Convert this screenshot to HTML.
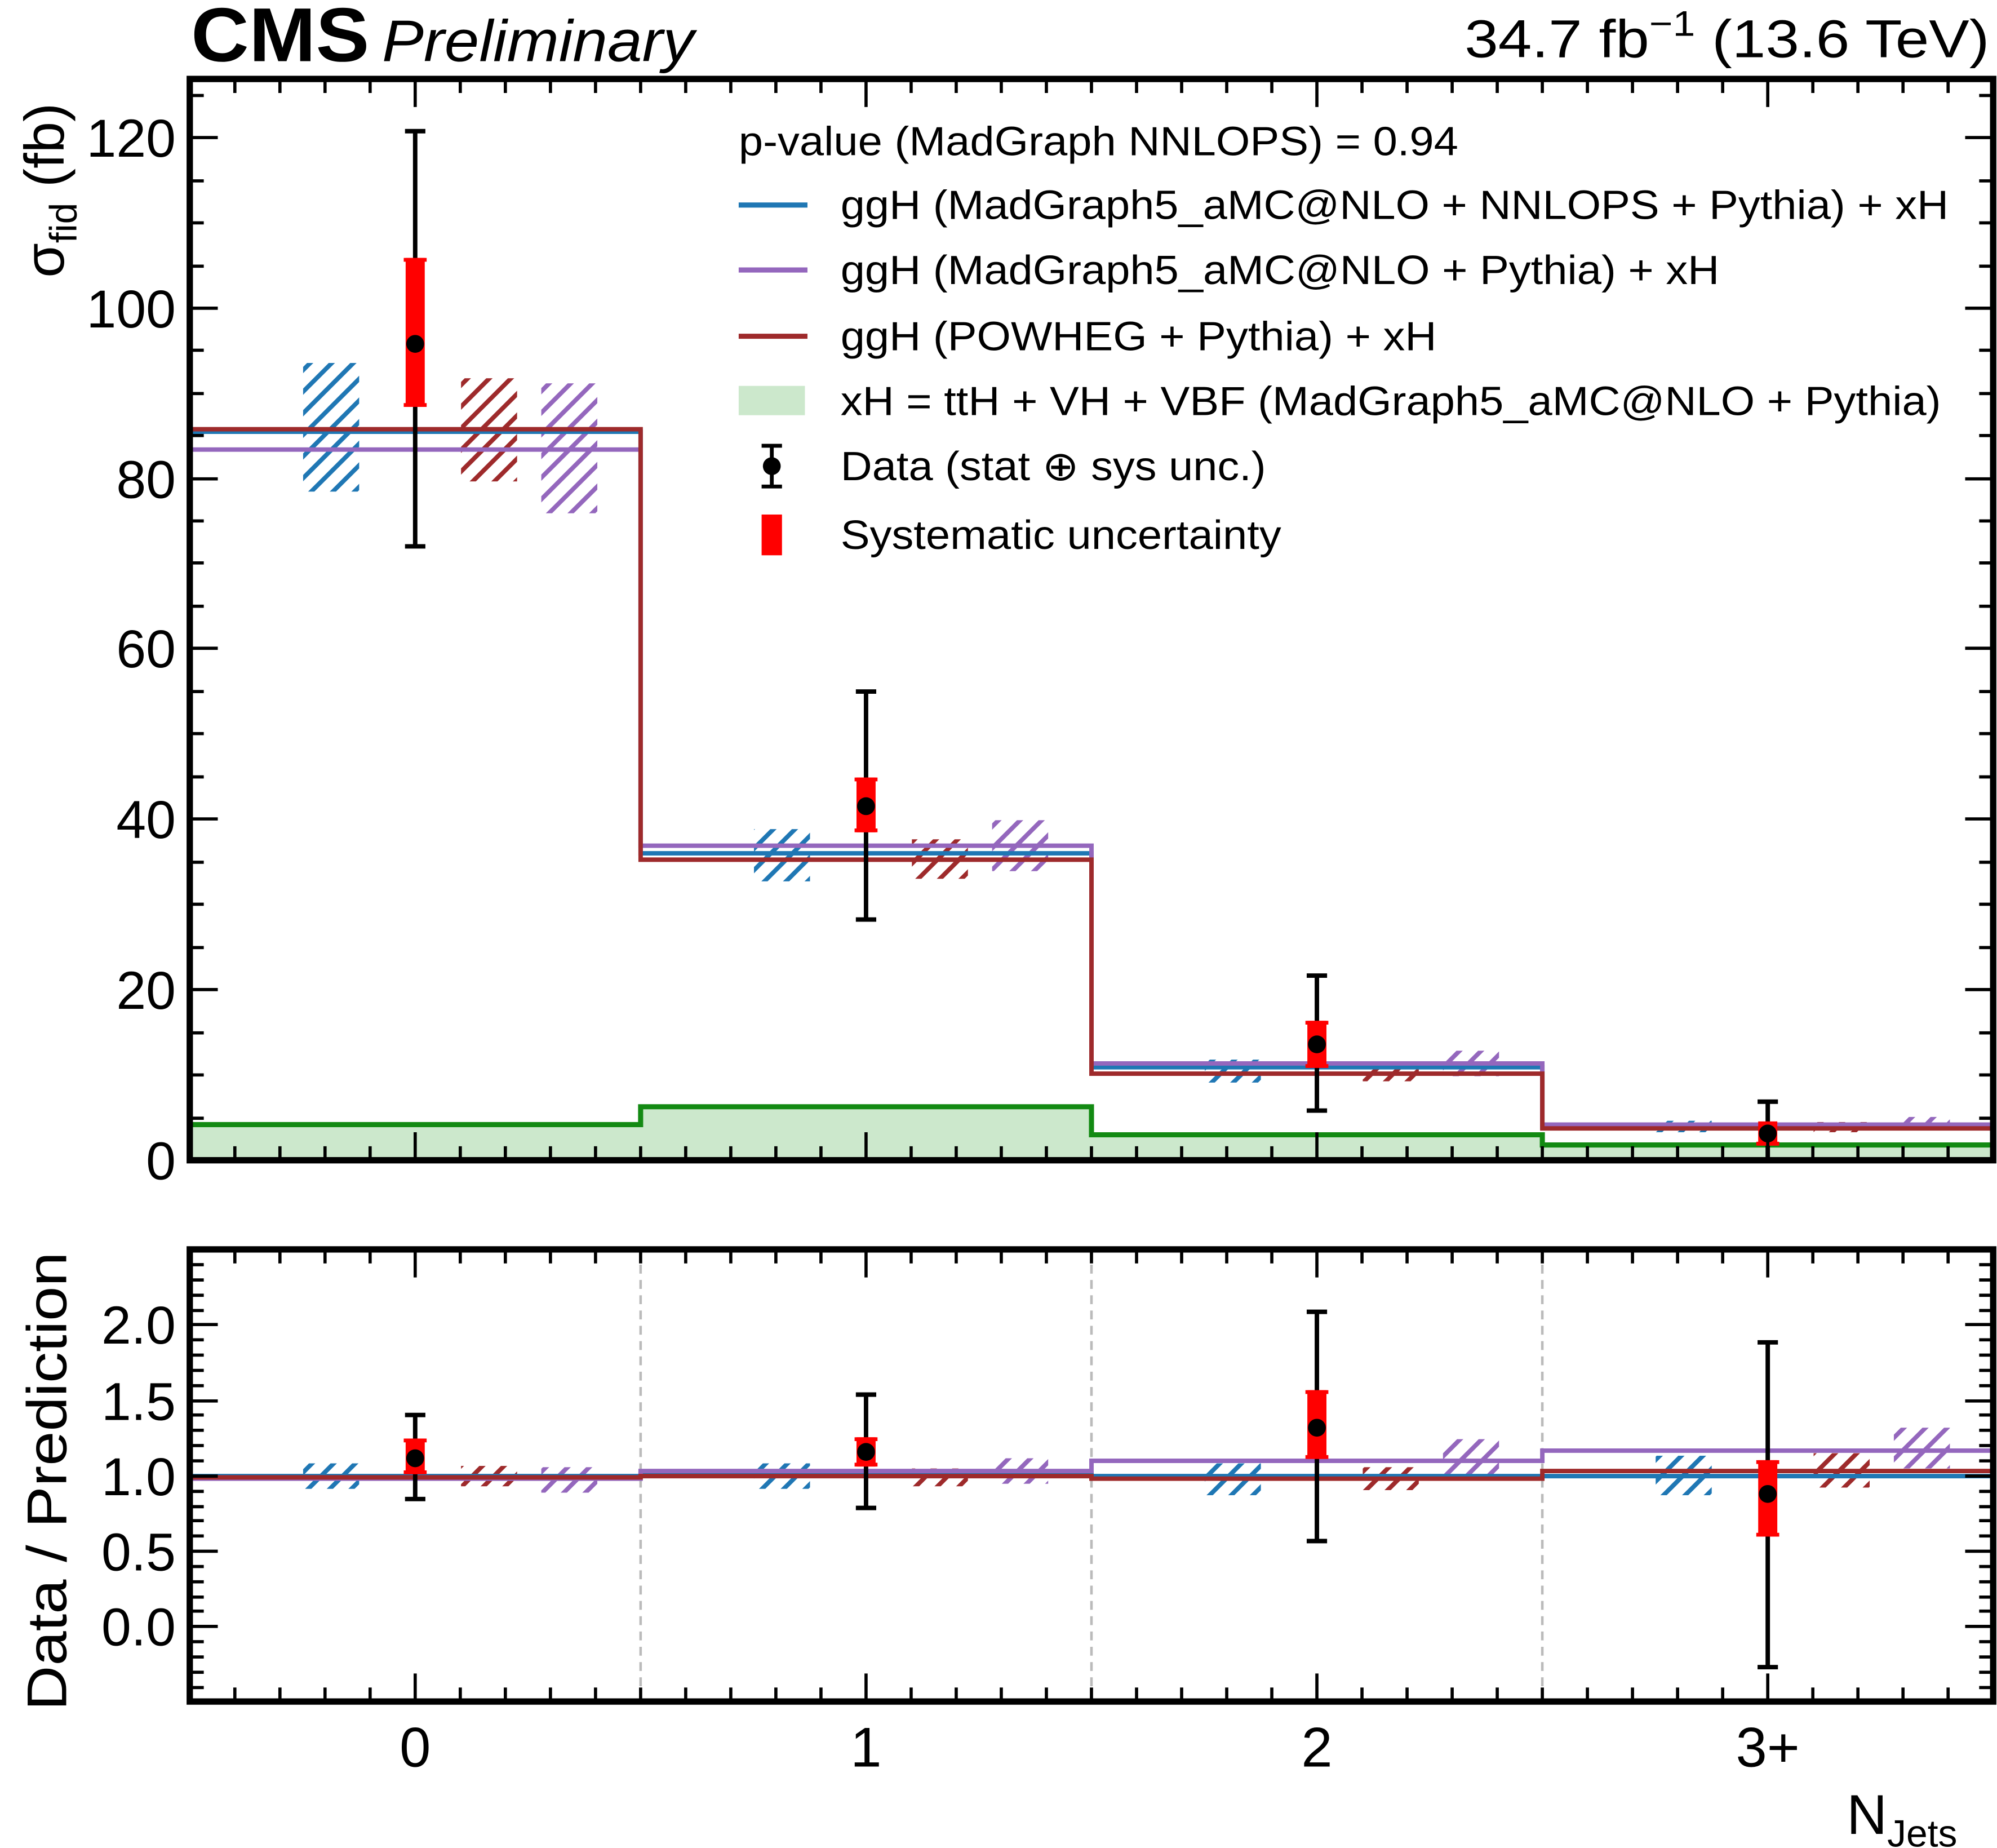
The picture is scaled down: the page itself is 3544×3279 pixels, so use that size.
<!DOCTYPE html>
<html><head><meta charset="utf-8"><style>html,body{margin:0;padding:0;background:#fff}svg{display:block}text{font-family:"Liberation Sans",sans-serif}</style></head>
<body>
<svg width="3544" height="3279" viewBox="0 0 1568 1451" preserveAspectRatio="none" xmlns="http://www.w3.org/2000/svg">
<defs>
<pattern id="hb" width="12" height="12" patternUnits="userSpaceOnUse" patternTransform="rotate(45)"><line x1="0" y1="0" x2="0" y2="12" stroke="#1f77b4" stroke-width="7"/></pattern>
<pattern id="hr" width="12" height="12" patternUnits="userSpaceOnUse" patternTransform="rotate(45)"><line x1="0" y1="0" x2="0" y2="12" stroke="#9e2a2b" stroke-width="7"/></pattern>
<pattern id="hp" width="12" height="12" patternUnits="userSpaceOnUse" patternTransform="rotate(45)"><line x1="0" y1="0" x2="0" y2="12" stroke="#9467bd" stroke-width="7"/></pattern>
</defs>
<rect width="1568" height="1451" fill="#fff"/>
<path d="M149,911 V883 H503 V869 H857 V891 H1211 V899 H1565 V911 Z" fill="#cce8cc"/>
<path d="M149,883 H503 V869 H857 V891 H1211 V899 H1565" fill="none" stroke="#138a13" stroke-width="4"/>
<g>
<rect x="238" y="285" width="44" height="101" fill="url(#hb)"/>
<rect x="362" y="297" width="44" height="81" fill="url(#hr)"/>
<rect x="425" y="301" width="44" height="102" fill="url(#hp)"/>
<rect x="592" y="651" width="44" height="41" fill="url(#hb)"/>
<rect x="716" y="659" width="44" height="31" fill="url(#hr)"/>
<rect x="779" y="644" width="44" height="40" fill="url(#hp)"/>
<rect x="946" y="832" width="44" height="18" fill="url(#hb)"/>
<rect x="1070" y="836" width="44" height="13" fill="url(#hr)"/>
<rect x="1133" y="825" width="44" height="20" fill="url(#hp)"/>
<rect x="1300" y="880" width="44" height="9" fill="url(#hb)"/>
<rect x="1424" y="881" width="44" height="8" fill="url(#hr)"/>
<rect x="1487" y="877" width="44" height="9" fill="url(#hp)"/>
</g>
<path d="M149,339 H503 V670 H857 V838 H1211 V885 H1565" fill="none" stroke="#1f77b4" stroke-width="3.5"/>
<path d="M149,353 H503 V664 H857 V835 H1211 V883 H1565" fill="none" stroke="#9467bd" stroke-width="3.5"/>
<path d="M149,337 H503 V675 H857 V843 H1211 V886 H1565" fill="none" stroke="#9e2a2b" stroke-width="3.5"/>
<g stroke="#000" stroke-width="3.5">
<line x1="326" y1="103" x2="326" y2="429"/><line x1="318" y1="103" x2="334" y2="103"/><line x1="318" y1="429" x2="334" y2="429"/>
<line x1="680" y1="543" x2="680" y2="722"/><line x1="672" y1="543" x2="688" y2="543"/><line x1="672" y1="722" x2="688" y2="722"/>
<line x1="1034" y1="766" x2="1034" y2="872"/><line x1="1026" y1="766" x2="1042" y2="766"/><line x1="1026" y1="872" x2="1042" y2="872"/>
<line x1="1388" y1="865" x2="1388" y2="911"/><line x1="1380" y1="865" x2="1396" y2="865"/>
</g>
<g fill="#f00" stroke="#f00" stroke-width="3">
<rect x="320" y="204" width="12" height="114"/><line x1="317" y1="204" x2="335" y2="204"/><line x1="317" y1="318" x2="335" y2="318"/>
<rect x="674" y="612" width="12" height="40"/><line x1="671" y1="612" x2="689" y2="612"/><line x1="671" y1="652" x2="689" y2="652"/>
<rect x="1028" y="803" width="12" height="34"/><line x1="1025" y1="803" x2="1043" y2="803"/><line x1="1025" y1="837" x2="1043" y2="837"/>
<rect x="1382" y="882" width="12" height="16"/><line x1="1379" y1="898" x2="1397" y2="898"/>
</g>
<g fill="#000"><circle cx="326" cy="270" r="7"/><circle cx="680" cy="633" r="7"/><circle cx="1034" cy="820" r="7"/><circle cx="1388" cy="890" r="7"/></g>
<g stroke="#000" stroke-width="2.5">
<path d="M149,108h22M149,242h22M149,376h22M149,509h22M149,643h22M149,777h22M1565,108h-22M1565,242h-22M1565,376h-22M1565,509h-22M1565,643h-22M1565,777h-22"/>
<path d="M149,142h11M149,175h11M149,209h11M149,275h11M149,309h11M149,342h11M149,409h11M149,442h11M149,476h11M149,543h11M149,576h11M149,610h11M149,677h11M149,710h11M149,744h11M149,811h11M149,844h11M149,878h11M149,75h11
M1565,142h-11M1565,175h-11M1565,209h-11M1565,275h-11M1565,309h-11M1565,342h-11M1565,409h-11M1565,442h-11M1565,476h-11M1565,543h-11M1565,576h-11M1565,610h-11M1565,677h-11M1565,710h-11M1565,744h-11M1565,811h-11M1565,844h-11M1565,878h-11M1565,75h-11"/>
</g>
<rect x="149" y="62" width="1416" height="849" fill="none" stroke="#000" stroke-width="5"/>
<g stroke="#bbb" stroke-width="2" stroke-dasharray="7,5"><line x1="503" y1="981" x2="503" y2="1336"/><line x1="857" y1="981" x2="857" y2="1336"/><line x1="1211" y1="981" x2="1211" y2="1336"/></g>
<rect x="238" y="1149" width="44" height="20" fill="url(#hb)"/>
<rect x="362" y="1151" width="44" height="16" fill="url(#hr)"/>
<rect x="425" y="1152" width="44" height="20" fill="url(#hp)"/>
<rect x="592" y="1149" width="44" height="20" fill="url(#hb)"/>
<rect x="716" y="1153" width="44" height="14" fill="url(#hr)"/>
<rect x="779" y="1145" width="44" height="20" fill="url(#hp)"/>
<rect x="946" y="1149" width="44" height="25" fill="url(#hb)"/>
<rect x="1070" y="1152" width="44" height="18" fill="url(#hr)"/>
<rect x="1133" y="1130" width="44" height="28" fill="url(#hp)"/>
<rect x="1300" y="1143" width="44" height="31" fill="url(#hb)"/>
<rect x="1424" y="1141" width="44" height="27" fill="url(#hr)"/>
<rect x="1487" y="1121" width="44" height="32" fill="url(#hp)"/>
<path d="M149,1159 H503 V1157 H857 V1159 H1565" fill="none" stroke="#1f77b4" stroke-width="3.5"/>
<path d="M149,1161 H503 V1155 H857 V1147 H1211 V1139 H1565" fill="none" stroke="#9467bd" stroke-width="3.5"/>
<path d="M149,1160 H503 V1159 H857 V1161 H1211 V1155 H1565" fill="none" stroke="#9e2a2b" stroke-width="3.5"/>
<g stroke="#000" stroke-width="3.5">
<line x1="326" y1="1111" x2="326" y2="1177"/><line x1="318" y1="1111" x2="334" y2="1111"/><line x1="318" y1="1177" x2="334" y2="1177"/>
<line x1="680" y1="1095" x2="680" y2="1184"/><line x1="672" y1="1095" x2="688" y2="1095"/><line x1="672" y1="1184" x2="688" y2="1184"/>
<line x1="1034" y1="1030" x2="1034" y2="1210"/><line x1="1026" y1="1030" x2="1042" y2="1030"/><line x1="1026" y1="1210" x2="1042" y2="1210"/>
<line x1="1388" y1="1054" x2="1388" y2="1309"/><line x1="1380" y1="1054" x2="1396" y2="1054"/><line x1="1380" y1="1309" x2="1396" y2="1309"/>
</g>
<g fill="#f00" stroke="#f00" stroke-width="3">
<rect x="320" y="1131" width="12" height="25"/><line x1="317" y1="1131" x2="335" y2="1131"/><line x1="317" y1="1156" x2="335" y2="1156"/>
<rect x="674" y="1130" width="12" height="20"/><line x1="671" y1="1130" x2="689" y2="1130"/><line x1="671" y1="1150" x2="689" y2="1150"/>
<rect x="1028" y="1093" width="12" height="51"/><line x1="1025" y1="1093" x2="1043" y2="1093"/><line x1="1025" y1="1144" x2="1043" y2="1144"/>
<rect x="1382" y="1148" width="12" height="57"/><line x1="1379" y1="1148" x2="1397" y2="1148"/><line x1="1379" y1="1205" x2="1397" y2="1205"/>
</g>
<g fill="#000"><circle cx="326" cy="1145" r="7"/><circle cx="680" cy="1140" r="7"/><circle cx="1034" cy="1121" r="7"/><circle cx="1388" cy="1173" r="7"/></g>
<g stroke="#000" stroke-width="2.5">
<path d="M149,1040h22M149,1100h22M149,1159h22M149,1218h22M149,1277h22M1565,1040h-22M1565,1100h-22M1565,1159h-22M1565,1218h-22M1565,1277h-22"/>
<path d="M149,993h11M149,1005h11M149,1017h11M149,1029h11M149,1052h11M149,1064h11M149,1076h11M149,1088h11M149,1111h11M149,1123h11M149,1135h11M149,1147h11M149,1171h11M149,1183h11M149,1194h11M149,1206h11M149,1230h11M149,1242h11M149,1254h11M149,1265h11M149,1289h11M149,1301h11M149,1313h11M149,1325h11
M1565,993h-11M1565,1005h-11M1565,1017h-11M1565,1029h-11M1565,1052h-11M1565,1064h-11M1565,1076h-11M1565,1088h-11M1565,1111h-11M1565,1123h-11M1565,1135h-11M1565,1147h-11M1565,1171h-11M1565,1183h-11M1565,1194h-11M1565,1206h-11M1565,1230h-11M1565,1242h-11M1565,1254h-11M1565,1265h-11M1565,1289h-11M1565,1301h-11M1565,1313h-11M1565,1325h-11"/>
</g>
<rect x="149" y="981" width="1416" height="355" fill="none" stroke="#000" stroke-width="5"/>
<g stroke="#000" stroke-width="2.5">
<path d="M326,62v22M680,62v22M1034,62v22M1388,62v22M326,911v-22M680,911v-22M1034,911v-22M1388,911v-22M326,981v22M680,981v22M1034,981v22M1388,981v22M326,1336v-22M680,1336v-22M1034,1336v-22M1388,1336v-22"/>
</g>
<g stroke="#000" stroke-width="2.5" id="xmin"></g>
<g font-size="42" text-anchor="end">
<text x="138" y="123">120</text><text x="138" y="257">100</text><text x="138" y="391">80</text><text x="138" y="524">60</text><text x="138" y="658">40</text><text x="138" y="792">20</text><text x="138" y="926">0</text>
<text x="138" y="1055">2.0</text><text x="138" y="1115">1.5</text><text x="138" y="1174">1.0</text><text x="138" y="1233">0.5</text><text x="138" y="1292">0.0</text>
</g>
<g font-size="44" text-anchor="middle"><text x="326" y="1387">0</text><text x="680" y="1387">1</text><text x="1034" y="1387">2</text><text x="1388" y="1387">3+</text></g>
<text x="1450" y="1440" font-size="44">N<tspan font-size="30" dy="10">Jets</tspan></text>
<text transform="translate(50,218) rotate(-90)" font-size="44">σ<tspan font-size="30" dy="10">fid</tspan><tspan dy="-10"> (fb)</tspan></text>
<text transform="translate(52,1343) rotate(-90)" font-size="44" textLength="360" lengthAdjust="spacingAndGlyphs">Data / Prediction</text>
<text x="150" y="48" font-size="60" font-weight="bold" textLength="140" lengthAdjust="spacingAndGlyphs">CMS</text>
<text x="300" y="48" font-size="46" font-style="italic" textLength="245" lengthAdjust="spacingAndGlyphs">Preliminary</text>
<text x="1150" y="45" font-size="42" textLength="412" lengthAdjust="spacingAndGlyphs">34.7 fb<tspan font-size="28" dy="-17">−1</tspan><tspan dy="17"> (13.6 TeV)</tspan></text>
<g font-size="32">
<text x="580" y="122" textLength="565" lengthAdjust="spacingAndGlyphs">p-value (MadGraph NNLOPS) = 0.94</text>
<line x1="580" y1="161" x2="634" y2="161" stroke="#1f77b4" stroke-width="4"/><text x="660" y="172" textLength="870" lengthAdjust="spacingAndGlyphs">ggH (MadGraph5_aMC@NLO + NNLOPS + Pythia) + xH</text>
<line x1="580" y1="212" x2="634" y2="212" stroke="#9467bd" stroke-width="4"/><text x="660" y="223" textLength="690" lengthAdjust="spacingAndGlyphs">ggH (MadGraph5_aMC@NLO + Pythia) + xH</text>
<line x1="580" y1="264" x2="634" y2="264" stroke="#9e2a2b" stroke-width="4"/><text x="660" y="275" textLength="468" lengthAdjust="spacingAndGlyphs">ggH (POWHEG + Pythia) + xH</text>
<rect x="580" y="303" width="52" height="23" fill="#cce8cc"/><text x="660" y="326" textLength="864" lengthAdjust="spacingAndGlyphs">xH = ttH + VH + VBF (MadGraph5_aMC@NLO + Pythia)</text>
<g stroke="#000" stroke-width="3"><line x1="606" y1="350" x2="606" y2="382"/><line x1="598" y1="350" x2="614" y2="350"/><line x1="598" y1="382" x2="614" y2="382"/></g><circle cx="606" cy="366" r="7"/>
<text x="660" y="377" textLength="334" lengthAdjust="spacingAndGlyphs">Data (stat ⊕ sys unc.)</text>
<rect x="598" y="404" width="16" height="32" fill="#f00"/>
<text x="660" y="431" textLength="346" lengthAdjust="spacingAndGlyphs">Systematic uncertainty</text>
</g>
<script>
(function(){var g=document.getElementById('xmin');var d='';for(var i=-4;i<35;i++){if(i%10===0)continue;var x=326+35.4*i;if(x<=150||x>=1564)continue;d+='M'+x+',62v11M'+x+',911v-11M'+x+',981v11M'+x+',1336v-11';}var p=document.createElementNS('http://www.w3.org/2000/svg','path');p.setAttribute('d',d);g.appendChild(p);})();
</script>
</svg>
</body></html>
